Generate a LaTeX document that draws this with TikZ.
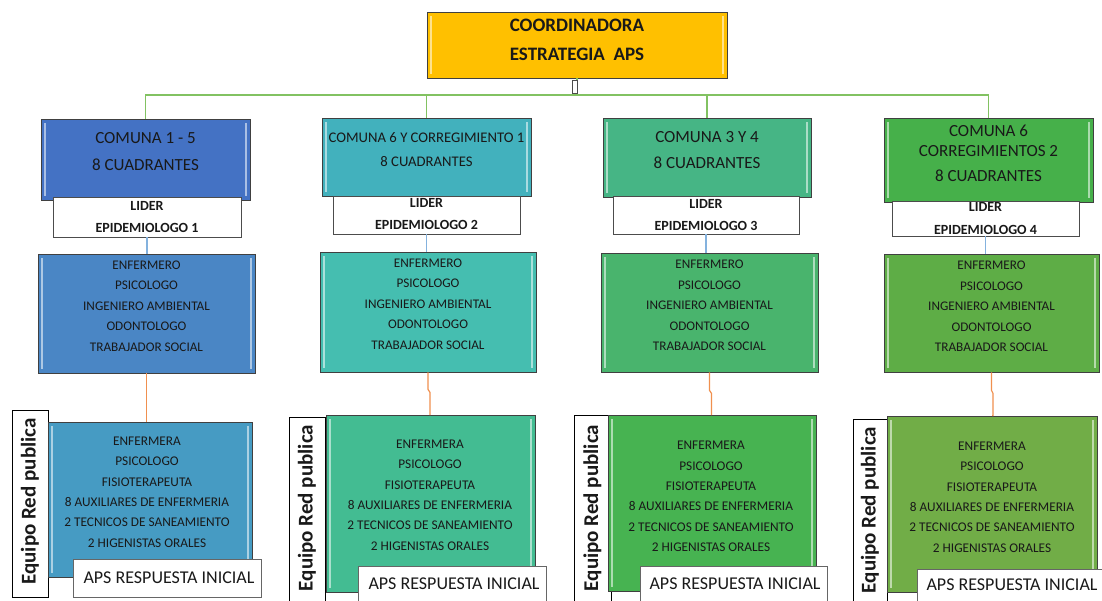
\documentclass[tikz,border=0pt]{standalone}
\usepackage{fontspec}
\setmainfont{Carlito}
\definecolor{cTop}{HTML}{FFC000}
\definecolor{cCa}{HTML}{4472C4}
\definecolor{cSa}{HTML}{4A86C5}
\definecolor{cBa}{HTML}{469BC3}
\definecolor{cCb}{HTML}{42B1BD}
\definecolor{cSb}{HTML}{45BEB0}
\definecolor{cBb}{HTML}{43BC92}
\definecolor{cCc}{HTML}{46B585}
\definecolor{cSc}{HTML}{49B46D}
\definecolor{cBc}{HTML}{47B351}
\definecolor{cCd}{HTML}{46B04A}
\definecolor{cSd}{HTML}{5EAD46}
\definecolor{cBd}{HTML}{71AD47}
\definecolor{gLine}{HTML}{82C262}
\definecolor{bLine}{HTML}{84B2DE}
\definecolor{oLine}{HTML}{F0904F}
\begin{document}
\begin{tikzpicture}[x=1pt,y=-1pt,
  bevel/.style={path picture={
    \draw[white,opacity=0.55,line width=1.6pt]
      ([xshift=4pt,yshift=-4pt]path picture bounding box.north west) --
      ([xshift=4pt,yshift=4pt]path picture bounding box.south west);
    \draw[white,opacity=0.55,line width=1.6pt]
      ([xshift=-4pt,yshift=-4pt]path picture bounding box.north east) --
      ([xshift=-4pt,yshift=4pt]path picture bounding box.south east);}},
  cbox/.style={draw=black!75,line width=0.8pt,rectangle,inner sep=0pt,bevel},
  wbox/.style={draw=black!70,fill=white,line width=0.8pt,rectangle,inner sep=0pt},
  txt/.style={inner sep=0pt,align=center,text=black!90},
  comtxt/.style={txt,font=\fontsize{17}{27}\selectfont},
  lidtxt/.style={txt,font=\bfseries\fontsize{14}{22.5}\selectfont},
  stftxt/.style={txt,font=\fontsize{13.2}{20.5}\selectfont},
  bottxt/.style={txt,font=\fontsize{13.3}{20.4}\selectfont},
  equtxt/.style={txt,rotate=90,font=\bfseries\fontsize{21}{24}\selectfont},
  apstxt/.style={txt,font=\fontsize{18}{20}\selectfont},
  gline/.style={draw=gLine,line width=1.2pt},
  bline/.style={draw=bLine,line width=1.2pt},
  oline/.style={draw=oLine,line width=1.2pt}]
\useasboundingbox[fill=white] (0,0) rectangle (1102,600);

% top
\node[cbox,fill=cTop,minimum width=300,minimum height=66] (top) at (577,45) {};
\node[txt,font=\bfseries\fontsize{19}{29}\selectfont] (topt) at (577,39.5) {COORDINADORA\\ESTRATEGIA~~APS};

% column boxes
\node[cbox,fill=cCa,minimum width=209,minimum height=81] (ca) at (145.5,159.5) {};
\node[cbox,fill=cCb,minimum width=209,minimum height=78] (cb) at (426.5,157) {};
\node[cbox,fill=cCc,minimum width=208,minimum height=79] (cc) at (707,157.5) {};
\node[cbox,fill=cCd,minimum width=209,minimum height=84] (cd) at (988.5,160) {};

\node[comtxt] (cat) at (145.5,151.5) {COMUNA 1 - 5\\8 CUADRANTES};
\node[txt,font=\fontsize{14.7}{24}\selectfont] (cbt) at (426.5,150) {COMUNA 6 Y CORREGIMIENTO 1\\8 CUADRANTES};
\node[txt,font=\fontsize{17}{26}\selectfont] (cct) at (707,150) {COMUNA 3 Y 4\\8 CUADRANTES};
\node[txt,font=\fontsize{17}{20}\selectfont] (cdt) at (988.5,153.5) {COMUNA 6\\CORREGIMIENTOS 2\\[5pt]8 CUADRANTES};

% connectors top
\coordinate (busc) at (577,95);
\draw[gline] (top.south) -- (busc);
\draw[gline] (busc) -| (ca.north);
\draw[gline] (busc) -| (cb.north);
\draw[gline] (busc) -| (cc.north);
\draw[gline] (busc) -| (cd.north);
\node[draw=black!70,fill=white,line width=0.8pt,minimum width=5,minimum height=13,inner sep=0pt] (mark) at (574.5,86.5) {};

% lider boxes
\node[wbox,minimum width=188,minimum height=40] (la) at (147,217) {};
\node[wbox,minimum width=187,minimum height=38] (lb) at (426.5,215) {};
\node[wbox,minimum width=186,minimum height=38] (lc) at (706,215) {};
\node[wbox,minimum width=187,minimum height=35] (ld) at (985.5,218.5) {};
\node[lidtxt] (lat) at (147,217) {LIDER\\EPIDEMIOLOGO 1};
\node[lidtxt] (lbt) at (426.5,214) {LIDER\\EPIDEMIOLOGO 2};
\node[lidtxt] (lct) at (706,215) {LIDER\\EPIDEMIOLOGO 3};
\node[lidtxt] (ldt) at (985.5,218.5) {LIDER\\EPIDEMIOLOGO 4};

% staff boxes
\node[cbox,fill=cSa,minimum width=217,minimum height=119] (sa) at (146.5,313.5) {};
\node[cbox,fill=cSb,minimum width=216,minimum height=120] (sb) at (428,312) {};
\node[cbox,fill=cSc,minimum width=217,minimum height=119] (sc) at (709.5,312.5) {};
\node[cbox,fill=cSd,minimum width=215,minimum height=118] (sd) at (991.5,313) {};
\node[stftxt] (sat) at (146.5,306) {ENFERMERO\\PSICOLOGO\\INGENIERO AMBIENTAL\\ODONTOLOGO\\TRABAJADOR SOCIAL};
\node[stftxt] (sbt) at (428,304) {ENFERMERO\\PSICOLOGO\\INGENIERO AMBIENTAL\\ODONTOLOGO\\TRABAJADOR SOCIAL};
\node[stftxt] (sct) at (709.5,305.5) {ENFERMERO\\PSICOLOGO\\INGENIERO AMBIENTAL\\ODONTOLOGO\\TRABAJADOR SOCIAL};
\node[stftxt] (sdt) at (991.5,306.5) {ENFERMERO\\PSICOLOGO\\INGENIERO AMBIENTAL\\ODONTOLOGO\\TRABAJADOR SOCIAL};

\draw[bline] (la.south) -- (la.south |- sa.north);
\draw[bline] (lb.south) -- (lb.south |- sb.north);
\draw[bline] (lc.south) -- (lc.south |- sc.north);
\draw[bline] (ld.south) -- (ld.south |- sd.north);

% bottom boxes
\node[wbox,draw=black,minimum width=36,minimum height=187] (ea) at (30,503.5) {};
\node[wbox,draw=black,minimum width=36,minimum height=185] (eb) at (307,509.5) {};
\node[wbox,draw=black,minimum width=37,minimum height=187] (ec) at (592.5,508.5) {};
\node[wbox,draw=black,minimum width=34,minimum height=183] (ed) at (870,510.5) {};

\node[cbox,fill=cBa,minimum width=204,minimum height=155] (ba) at (150,499.5) {};
\node[cbox,fill=cBb,minimum width=209,minimum height=177] (bb) at (430.5,503.5) {};
\node[cbox,fill=cBc,minimum width=208,minimum height=176] (bc) at (712,503) {};
\node[cbox,fill=cBd,minimum width=210,minimum height=176] (bd) at (992,504) {};
\node[bottxt] (bat) at (147,492) {ENFERMERA\\PSICOLOGO\\FISIOTERAPEUTA\\8 AUXILIARES DE ENFERMERIA\\2 TECNICOS DE SANEAMIENTO\\2 HIGENISTAS ORALES};
\node[bottxt] (bbt) at (430,495) {ENFERMERA\\PSICOLOGO\\FISIOTERAPEUTA\\8 AUXILIARES DE ENFERMERIA\\2 TECNICOS DE SANEAMIENTO\\2 HIGENISTAS ORALES};
\node[bottxt] (bct) at (711,496.5) {ENFERMERA\\PSICOLOGO\\FISIOTERAPEUTA\\8 AUXILIARES DE ENFERMERIA\\2 TECNICOS DE SANEAMIENTO\\2 HIGENISTAS ORALES};
\node[bottxt] (bdt) at (992,497) {ENFERMERA\\PSICOLOGO\\FISIOTERAPEUTA\\8 AUXILIARES DE ENFERMERIA\\2 TECNICOS DE SANEAMIENTO\\2 HIGENISTAS ORALES};

\draw[oline] (sa.south) -- (sa.south |- ba.north);
\draw[oline] (sb.south) -- ++(0,17) -- ++(2,3) |- (bb.north);
\draw[oline] (sc.south) -- ++(0,18) -- ++(2,3) |- (bc.north);
\draw[oline] (sd.south) -- ++(0,18) -- ++(1.5,3) |- (bd.north);

\node[equtxt] (eat) at (30,501.5) {Equipo Red publica};
\node[equtxt] (ebt) at (307,508) {Equipo Red publica};
\node[equtxt] (ect) at (592.5,508) {Equipo Red publica};
\node[equtxt] (edt) at (870,510) {Equipo Red publica};

\node[wbox,draw=black!60,minimum width=188,minimum height=38] (aa) at (167,578) {};
\node[wbox,draw=black!60,minimum width=188,minimum height=36] (ab) at (452,584) {};
\node[wbox,draw=black!60,minimum width=187,minimum height=36] (ac) at (733.5,584) {};
\node[wbox,draw=black!60,minimum width=188,minimum height=34] (ad) at (1011,586) {};
\node[apstxt] (aat) at (169,578) {APS RESPUESTA INICIAL};
\node[apstxt] (abt) at (454,584) {APS RESPUESTA INICIAL};
\node[apstxt] (act) at (735,584) {APS RESPUESTA INICIAL};
\node[apstxt] (adt) at (1012,585) {APS RESPUESTA INICIAL};
\end{tikzpicture}
\end{document}
